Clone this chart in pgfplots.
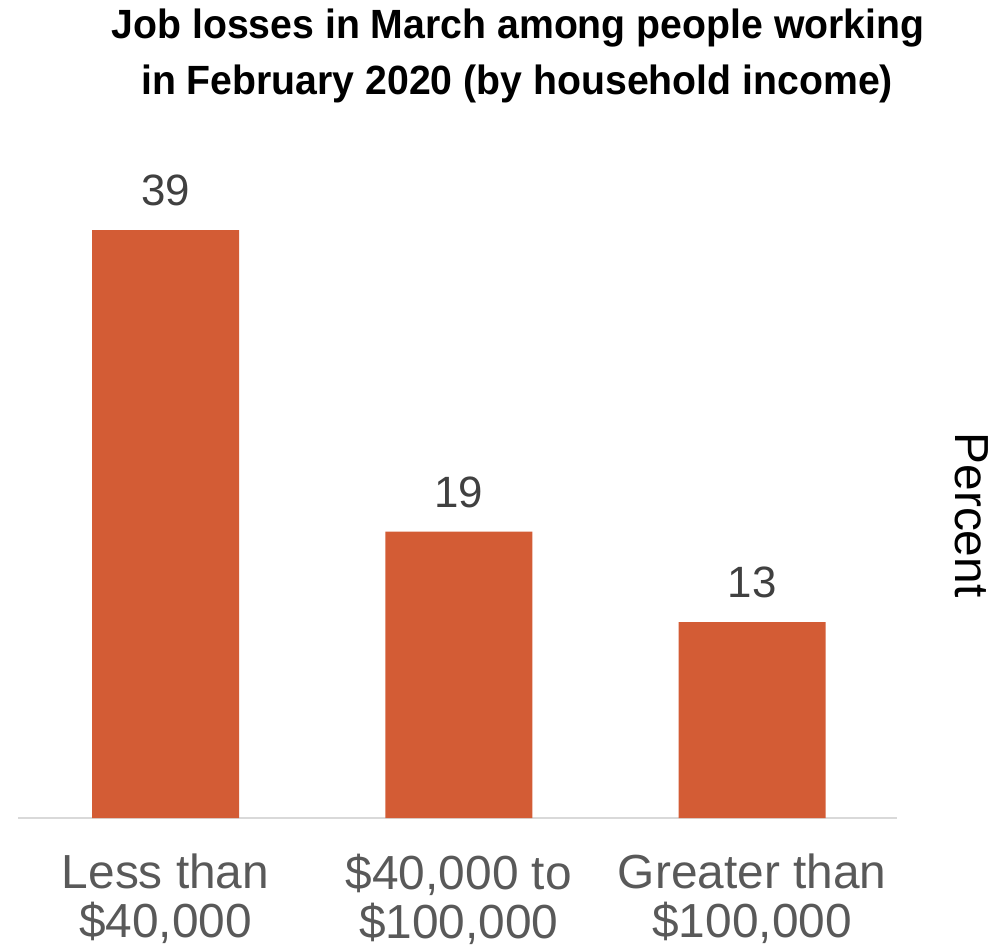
\documentclass[border=0pt]{standalone}
\usepackage{pgfplots}
\pgfplotsset{compat=1.18}
\usepackage{fontspec}
\setmainfont{Liberation Sans}
\newfontfamily\titlefont[FakeStretch=0.96]{Liberation Sans}
\definecolor{barc}{HTML}{D35C35}
\definecolor{lblc}{HTML}{595959}
\definecolor{valc}{HTML}{404040}
\begin{document}
\begin{tikzpicture}
\useasboundingbox (0,0) rectangle (1005bp,950bp);
\node[anchor=base, inner sep=0, font=\titlefont\bfseries\fontsize{41}{49}\selectfont] at (518bp,911bp) {Job losses in March among people working};
\node[anchor=base, inner sep=0, font=\titlefont\bfseries\fontsize{41}{49}\selectfont] at (517bp,855bp) {in February 2020 (by household income)};
\node[rotate=-90, inner sep=0, font=\fontsize{48}{54}\selectfont] at (972bp,435bp) {Percent};
\begin{axis}[
  at={(18bp,132bp)}, anchor=south west,
  scale only axis, width=879bp, height=633bp,
  xmin=-0.503, xmax=2.494, ymin=0, ymax=42,
  axis y line=none, axis x line*=bottom,
  x axis line style={draw=black!15, line width=2bp, -},
  ybar, bar width=147bp,
  xtick=data,
  xticklabels={{Less than\\\$40,000},{\$40,000 to\\\$100,000},{Greater than\\\$100,000}},
  xticklabel style={align=center, text=lblc, font=\fontsize{48}{49}\selectfont, inner sep=0, yshift=-36bp},
  major tick length=0,
  /pgf/number format/assume math mode=true,
  nodes near coords={\pgfmathprintnumber{\pgfplotspointmeta}},
  every node near coord/.append style={font=\fontsize{44}{50}\selectfont, text=valc, anchor=south, inner sep=0, yshift=24bp},
  clip=false,
]
\addplot[fill=barc, draw=none] coordinates {(0,39) (1,19) (2,13)};
\end{axis}
\end{tikzpicture}
\end{document}
